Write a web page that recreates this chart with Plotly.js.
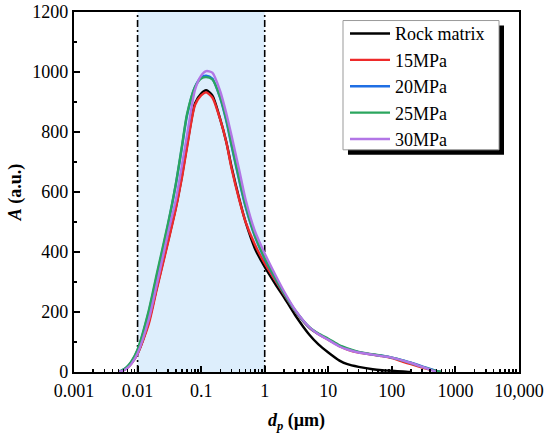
<!DOCTYPE html>
<html>
<head>
<meta charset="utf-8">
<script src="https://cdn.plot.ly/plotly-3.0.1.min.js"></script>
<style>
html,body{margin:0;padding:0;background:#fff;}
#chart{width:550px;height:438px;}
</style>
</head>
<body>
<div id="chart"></div>
<script>
// Particle size grid (µm)
var dp = [0.005, 0.006, 0.007, 0.008, 0.01, 0.015, 0.02, 0.03, 0.04, 0.05, 0.06, 0.08, 0.1, 0.12, 0.15, 0.2, 0.25, 0.3, 0.4, 0.5, 0.7, 1, 1.5, 2, 3, 5, 7, 10, 15, 20, 30, 50, 70, 100, 150, 200, 300, 400, 500, 600];

var rockMatrix = [0, 6, 16, 30, 62, 168, 280, 435, 548, 655, 755, 895, 928, 939, 922, 842, 765, 685, 575, 500, 412, 350, 290, 250, 190, 125, 92, 65, 38, 26, 17, 9, 6, 4, 2, 0, null, null, null, null];
var p15 = [0, 6, 15, 28, 60, 160, 275, 430, 545, 649, 749, 890, 922, 932, 915, 841, 764, 680, 572, 500, 425, 362, 302, 260, 203, 148, 126, 108, 86, 75, 65, 58, 53, 46, 34, 26, 15, 8, 4, 0];
var p20 = [0, 8, 19, 34, 73, 200, 318, 488, 625, 750, 855, 950, 982, 988, 978, 912, 835, 755, 635, 550, 452, 377, 308, 263, 205, 149, 127, 109, 87, 77, 66, 58, 54, 48, 39, 31, 19, 10, 4, 0];
var p25 = [0, 8, 20, 35, 75, 205, 326, 493, 628, 755, 860, 950, 978, 983, 975, 915, 840, 760, 640, 555, 455, 380, 310, 264, 206, 150, 128, 111, 89, 79, 67, 59, 54, 48, 38, 30, 17, 9, 3, 0];
var p30 = [0, 5, 14, 27, 62, 175, 290, 460, 574, 690, 790, 940, 988, 1003, 998, 935, 860, 789, 670, 575, 470, 395, 320, 270, 208, 150, 126, 107, 85, 75, 65, 58, 53, 48, 38, 30, 17, 8, 0, null];

var seriesNames = ["Rock matrix", "15MPa", "20MPa", "25MPa", "30MPa"];
var seriesColors = ["#000000", "#EE2A2A", "#1F6FE4", "#2BA65E", "#B276E6"];
var seriesData = [rockMatrix, p15, p20, p25, p30];

var shadeRange = [0.01, 1];
var yRange = [0, 1200];
var xTickVals = [0.001, 0.01, 0.1, 1, 10, 100, 1000, 10000];
var xTickText = ["0.001", "0.01", "0.1", "1", "10", "100", "1000", "10,000"];
var yTickVals = [0, 200, 400, 600, 800, 1000, 1200];

var traces = [];
// shaded pore-size band
traces.push({
  x: [shadeRange[0], shadeRange[1], shadeRange[1], shadeRange[0], shadeRange[0]],
  y: [yRange[0], yRange[0], yRange[1], yRange[1], yRange[0]],
  type: "scatter", mode: "lines", fill: "toself", fillcolor: "#DDEEFC",
  line: {width: 0, color: "rgba(0,0,0,0)"}, showlegend: false, hoverinfo: "skip"
});
// dash-dot boundaries
shadeRange.forEach(function (xv) {
  traces.push({
    x: [xv, xv], y: [yRange[0], yRange[1]], type: "scatter", mode: "lines",
    line: {color: "#000", width: 1.6, dash: "7px,3px,2px,3px"}, showlegend: false, hoverinfo: "skip"
  });
});
seriesData.forEach(function (ys, i) {
  traces.push({
    x: dp, y: ys, type: "scatter", mode: "lines", name: seriesNames[i],
    legendgroup: "g" + i,
    line: {color: seriesColors[i], width: 2.4, shape: "spline", smoothing: 0.7},
    connectgaps: false
  });
});

var serif = "Liberation Serif";
var layout = {
  width: 550, height: 438,
  margin: {l: 74, r: 31, t: 12, b: 66},
  paper_bgcolor: "#fff", plot_bgcolor: "#fff",
  font: {family: serif, size: 17, color: "#000"},
  showlegend: true,
  legend: {
    x: 0.609, y: 0.991, xanchor: "left", yanchor: "top",
    bgcolor: "rgba(0,0,0,0)", borderwidth: 0,
    font: {family: serif, size: 18, color: "#000"},
    tracegroupgap: 0, itemwidth: 40
  },
  xaxis: {
    type: "log", range: [-3, 4],
    tickvals: xTickVals, ticktext: xTickText,
    ticks: "inside", ticklen: 6, tickwidth: 2, tickcolor: "#000",
    ticklabelstandoff: 1,
    minor: {ticks: "inside", ticklen: 3, tickwidth: 1.5, tickcolor: "#000", dtick: "D1", showgrid: false},
    showline: true, linewidth: 2.2, linecolor: "#000", mirror: true,
    showgrid: false, zeroline: false,
    tickfont: {family: serif, size: 18},
    title: {text: "<b><i>d</i><sub><i>p</i></sub> (µm)</b>", font: {family: serif, size: 18}, standoff: 14}
  },
  yaxis: {
    range: yRange, tickvals: yTickVals,
    ticks: "inside", ticklen: 6, tickwidth: 2, tickcolor: "#000",
    minor: {ticks: "inside", ticklen: 3, tickwidth: 1.5, tickcolor: "#000", dtick: 100, showgrid: false},
    showline: true, linewidth: 2.2, linecolor: "#000", mirror: true,
    showgrid: false, zeroline: false,
    tickfont: {family: serif, size: 18},
    title: {text: "<b><i>A</i> (a.u.)</b>", font: {family: serif, size: 18}, standoff: 6}
  },
  shapes: [
    // legend drop shadow and frame
    {type: "rect", xref: "paper", yref: "paper", x0: 0.6157, x1: 0.9663, y0: 0.6033, y1: 0.9624,
     fillcolor: "#000", line: {width: 0}, layer: "above"},
    {type: "rect", xref: "paper", yref: "paper", x0: 0.6045, x1: 0.9551, y0: 0.6172, y1: 0.9763,
     fillcolor: "#fff", line: {width: 1, color: "#999"}, layer: "above"}
  ]
};

Plotly.newPlot("chart", traces, layout, {displayModeBar: false, staticPlot: true});
</script>
</body>
</html>
